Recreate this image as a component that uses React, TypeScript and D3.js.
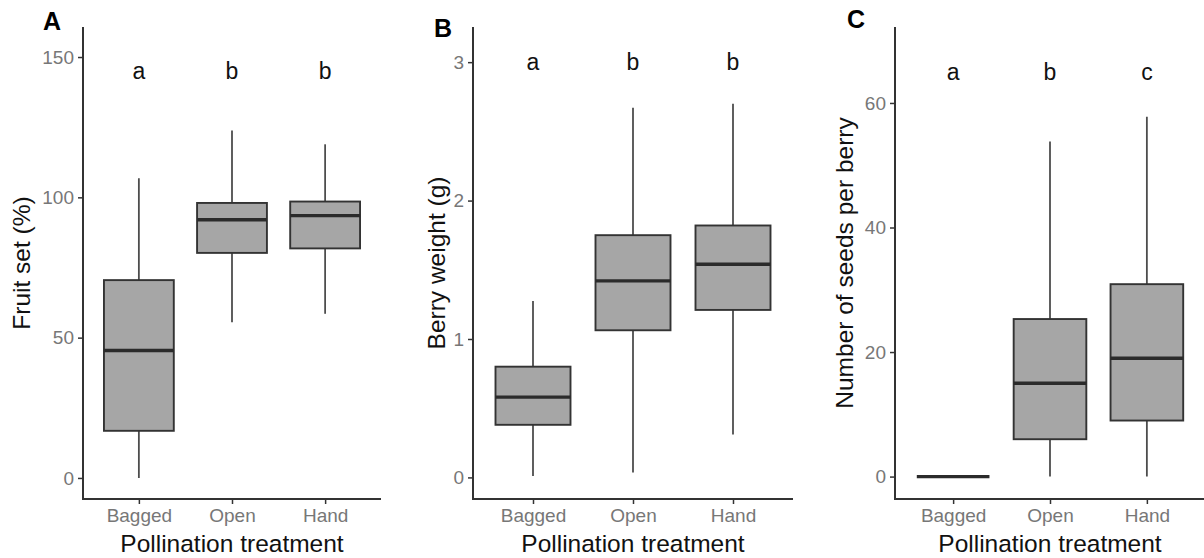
import { useEffect, useRef } from 'react';
import * as d3 from 'd3';

// categories on the x axis
const treatments = ['Bagged', 'Open', 'Hand'];

// box stats per treatment: [lower whisker, q1, median, q3, upper whisker]
const fruitSet = [
  [0, 16.8, 45.4, 70.5, 106.8],
  [55.5, 80.2, 92, 98, 123.8],
  [58.5, 81.8, 93.5, 98.5, 118.9],
];
const berryWeight = [
  [0.01, 0.38, 0.58, 0.8, 1.275],
  [0.036, 1.063, 1.42, 1.75, 2.67],
  [0.31, 1.21, 1.54, 1.82, 2.7],
];
const seedsPerBerry = [
  [0, 0, 0, 0, 0],
  [0, 6, 15, 25.3, 53.8],
  [0, 9, 19, 30.9, 57.8],
];

// significance letters
const lettersA = ['a', 'b', 'b'];
const lettersB = ['a', 'b', 'b'];
const lettersC = ['a', 'b', 'c'];

// y ticks
const ticksA = [0, 50, 100, 150];
const ticksB = [0, 1, 2, 3];
const ticksC = [0, 20, 40, 60];

const FONT = '"Liberation Sans", Arial, Helvetica, sans-serif';

type PanelCfg = {
  tag: string;
  tagX: number;
  tagY: number;
  left: number;
  right: number;
  yDomain: [number, number];
  ticks: number[];
  stats: number[][];
  letters: string[];
  letterAt: number;
  title: string;
  titleX: number;
};

const panels: PanelCfg[] = [
  {
    tag: 'A', tagX: 43, tagY: 30, left: 83, right: 381,
    yDomain: [-7.5, 160.7], ticks: ticksA, stats: fruitSet,
    letters: lettersA, letterAt: 145, title: 'Fruit set (%)', titleX: 21,
  },
  {
    tag: 'B', tagX: 434, tagY: 37, left: 473, right: 793,
    yDomain: [-0.156, 3.254], ticks: ticksB, stats: berryWeight,
    letters: lettersB, letterAt: 3.0, title: 'Berry weight (g)', titleX: 436,
  },
  {
    tag: 'C', tagX: 847, tagY: 28, left: 895, right: 1205,
    yDomain: [-3.6, 72.2], ticks: ticksC, stats: seedsPerBerry,
    letters: lettersC, letterAt: 65, title: 'Number of seeds per berry', titleX: 844,
  },
];

const App = () => {
  const svgRef = useRef<SVGSVGElement>(null);

  useEffect(() => {
    const svg = d3.select(svgRef.current);
    svg.selectAll('*').remove();
    const top = 27;
    const bottom = 499;

    panels.forEach((p) => {
      const g = svg.append('g');

      const x = d3.scalePoint<string>().domain(treatments).range([p.left, p.right]).padding(0.6);
      const y = d3.scaleLinear().domain(p.yDomain).range([bottom, top]);
      const boxW = x.step() * 0.75;

      // y axis
      const yAxis = g
        .append('g')
        .attr('transform', `translate(${p.left},0)`)
        .call(d3.axisLeft(y).tickValues(p.ticks).tickSize(5).tickPadding(4).tickFormat(d3.format('d')));
      yAxis.select('.domain').remove();
      yAxis.selectAll('.tick line').attr('stroke', '#333').attr('stroke-width', 1.5);
      yAxis
        .selectAll('.tick text')
        .attr('fill', '#777')
        .style('font-size', '19px')
        .style('font-family', FONT);

      // x axis
      const xAxis = g
        .append('g')
        .attr('transform', `translate(0,${bottom})`)
        .call(d3.axisBottom(x).tickSize(5).tickPadding(5));
      xAxis.select('.domain').remove();
      xAxis.selectAll('.tick line').attr('stroke', '#333').attr('stroke-width', 1.5);
      xAxis
        .selectAll('.tick text')
        .attr('fill', '#777')
        .style('font-size', '19px')
        .style('font-family', FONT);

      // axis lines
      g.append('path')
        .attr('d', `M${p.left},${top}V${bottom}H${p.right}`)
        .attr('fill', 'none')
        .attr('stroke', '#333')
        .attr('stroke-width', 2);

      // boxes
      const box = g
        .selectAll('g.box')
        .data(p.stats.map((s, i) => ({ cat: treatments[i], s })))
        .enter()
        .append('g')
        .attr('class', 'box');

      box
        .append('line')
        .attr('x1', (d) => x(d.cat)!)
        .attr('x2', (d) => x(d.cat)!)
        .attr('y1', (d) => y(d.s[0]))
        .attr('y2', (d) => y(d.s[4]))
        .attr('stroke', '#4d4d4d')
        .attr('stroke-width', 1.8);

      box
        .append('rect')
        .attr('x', (d) => x(d.cat)! - boxW / 2)
        .attr('width', boxW)
        .attr('y', (d) => y(d.s[3]))
        .attr('height', (d) => y(d.s[1]) - y(d.s[3]))
        .attr('fill', '#a6a6a6')
        .attr('stroke', '#333')
        .attr('stroke-width', 1.9);

      box
        .append('line')
        .attr('x1', (d) => x(d.cat)! - boxW / 2)
        .attr('x2', (d) => x(d.cat)! + boxW / 2)
        .attr('y1', (d) => y(d.s[2]))
        .attr('y2', (d) => y(d.s[2]))
        .attr('stroke', '#2b2b2b')
        .attr('stroke-width', 3.4);

      // letters
      g.selectAll('text.letter')
        .data(p.letters.map((l, i) => ({ l, cat: treatments[i] })))
        .enter()
        .append('text')
        .attr('class', 'letter')
        .attr('x', (d) => x(d.cat)!)
        .attr('y', y(p.letterAt))
        .attr('dy', '0.35em')
        .attr('text-anchor', 'middle')
        .style('font-family', FONT)
        .style('font-size', '23px')
        .attr('fill', '#111')
        .text((d) => d.l);

      // titles
      g.append('text')
        .attr('x', (p.left + p.right) / 2)
        .attr('y', 552)
        .attr('text-anchor', 'middle')
        .style('font-family', FONT)
        .style('font-size', '24.5px')
        .attr('fill', '#111')
        .text('Pollination treatment');

      g.append('text')
        .attr('transform', `translate(${p.titleX},${(top + bottom) / 2}) rotate(-90)`)
        .attr('dy', '0.35em')
        .attr('text-anchor', 'middle')
        .style('font-family', FONT)
        .style('font-size', '24.5px')
        .attr('fill', '#111')
        .text(p.title);

      g.append('text')
        .attr('x', p.tagX)
        .attr('y', p.tagY)
        .style('font-family', FONT)
        .style('font-size', '25px')
        .style('font-weight', 'bold')
        .attr('fill', '#000')
        .text(p.tag);
    });
  }, []);

  return (
    <svg
      ref={svgRef}
      width={1204}
      height={558}
      style={{ position: 'absolute', left: 0, top: 0, background: '#fff' }}
    ></svg>
  );
};

export default App;
